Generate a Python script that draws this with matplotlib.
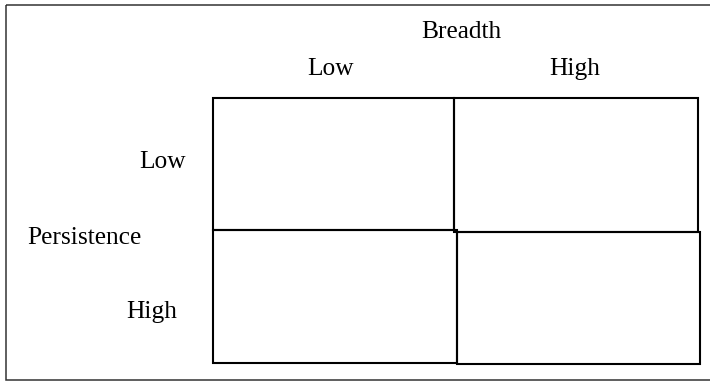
import matplotlib
matplotlib.use("Agg")
import matplotlib.pyplot as plt
from matplotlib.patches import Rectangle

# ----- labels -----
col_title = "Breadth"
row_title = "Persistence"
col_labels = ["Low", "High"]
row_labels = ["Low", "High"]

# ----- layout (pixel coords, y down) -----
# the four boxes are drawn separately, so their edges don't quite line up
cells = [
    (213, 98, 454, 230),   # top-left
    (454, 98, 698, 231.5), # top-right
    (213, 230, 457, 363),  # bottom-left
    (457, 232, 700, 364),  # bottom-right
]
col_label_pos = [(331, 75), (575, 75)]
row_label_pos = [(163, 168), (152, 318)]

fig = plt.figure(figsize=(7.1, 3.81), dpi=100)
ax = fig.add_axes([0, 0, 1, 1])
ax.set_xlim(0, 710)
ax.set_ylim(381, 0)
ax.axis("off")

plt.rcParams["font.family"] = ["Liberation Serif", "DejaVu Serif"]
fs = 18.3

# outer frame (right edge runs off the picture)
ax.add_patch(Rectangle((5.5, 4.5), 720, 375.5, fill=False, lw=1.1, ec="#333333"))

for x0, y0, x1, y1 in cells:
    ax.add_patch(Rectangle((x0, y0), x1 - x0, y1 - y0, fill=False, lw=1.5, ec="black"))

ax.text(461, 38, col_title, ha="center", va="baseline", fontsize=fs)
ax.text(84, 244, row_title, ha="center", va="baseline", fontsize=fs)

for lab, (x, y) in zip(col_labels, col_label_pos):
    ax.text(x, y, lab, ha="center", va="baseline", fontsize=fs)
for lab, (x, y) in zip(row_labels, row_label_pos):
    ax.text(x, y, lab, ha="center", va="baseline", fontsize=fs)

plt.savefig("out.png", dpi=100)
plt.close()
